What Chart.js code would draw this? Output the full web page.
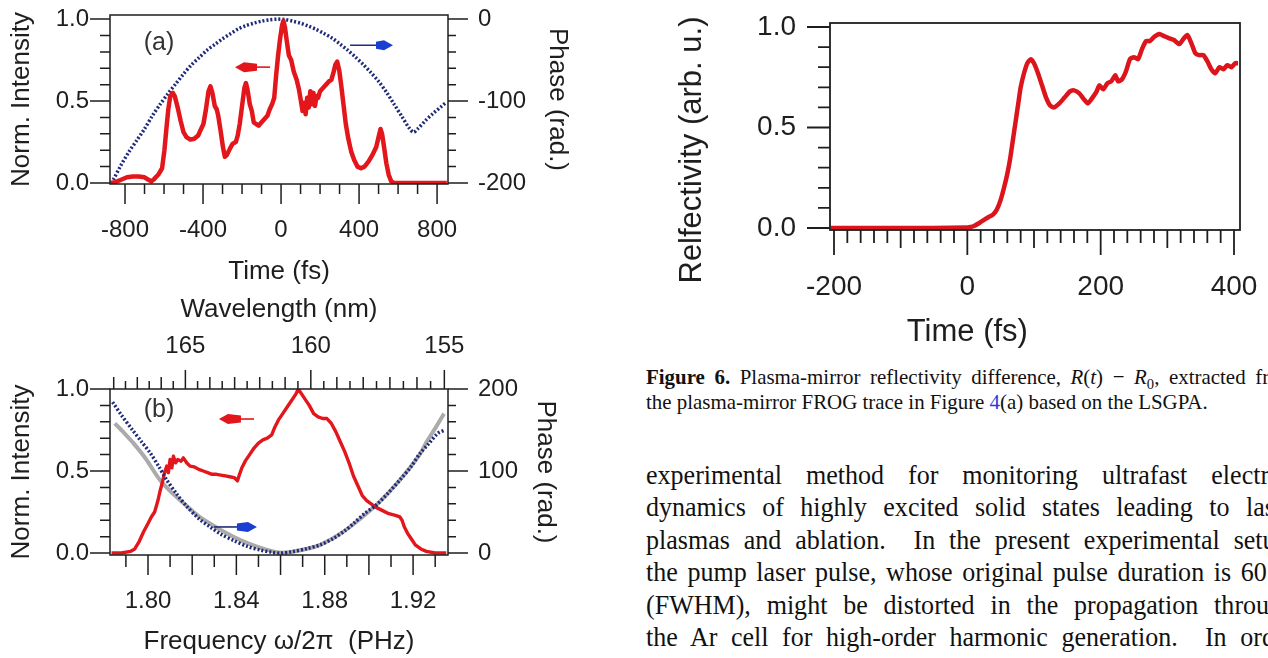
<!DOCTYPE html>
<html>
<head>
<meta charset="utf-8">
<script src="https://cdn.jsdelivr.net/npm/chart.js@4.4.1/dist/chart.umd.min.js"></script>
<style>
  html, body { margin: 0; padding: 0; background: #fff; width: 1268px; height: 658px; overflow: hidden; }
  canvas { position: absolute; }
  #capt { position: absolute; left: 646px; top: 364px; font-family: "Liberation Serif", serif; font-size: 22px; line-height: 25px; color: #111; transform: scaleX(0.95); transform-origin: 0 0; }
  #capt div { width: 684px; white-space: nowrap; text-align: justify; text-align-last: justify; }
  #capt div.last { text-align-last: left; }
  #txt { position: absolute; left: 646px; top: 459px; font-family: "Liberation Serif", serif; font-size: 28px; line-height: 32.4px; color: #111; transform: scaleX(0.93); transform-origin: 0 0; }
  #txt div { width: 698px; white-space: nowrap; text-align: justify; text-align-last: justify; }
  sub { font-size: 70%; line-height: 0; }
</style>
</head>
<body>
<canvas id="ca" width="600" height="290" style="left:0;top:0"></canvas>
<canvas id="cb" width="600" height="368" style="left:0;top:290px"></canvas>
<canvas id="cr" width="608" height="350" style="left:660px;top:0"></canvas>

<div id="capt">
  <div><b>Figure 6.</b> Plasma-mirror reflectivity difference, <i>R</i>(<i>t</i>) &minus; <i>R</i><sub>0</sub>, extracted from</div>
  <div class="last">the plasma-mirror FROG trace in Figure <span style="color:#2a3cd8">4</span>(a) based on the LSGPA.</div>
</div>
<div id="txt">
  <div>experimental method for monitoring ultrafast electron</div>
  <div>dynamics of highly excited solid states leading to laser</div>
  <div>plasmas and ablation.&nbsp; In the present experimental setup,</div>
  <div>the pump laser pulse, whose original pulse duration is 60 fs</div>
  <div>(FWHM), might be distorted in the propagation through</div>
  <div>the Ar cell for high-order harmonic generation.&nbsp; In order</div>
</div>

<script>
// (a) temporal intensity and phase
const timeA = [-875, -850, -820, -790, -760, -730, -700, -680, -665, -650, -630, -610, -598, -588, -578, -568, -555, -545, -530, -515,
  -500, -485, -465, -445, -425, -410, -398, -385, -372, -362, -352, -340, -330, -322, -310, -298, -288, -278, -262, -248,
  -232, -222, -212, -200, -188, -180, -172, -160, -150, -140, -128, -115, -100, -85, -70, -58, -46, -35, -25, -15,
  -5, 5, 12, 20, 30, 40, 52, 65, 80, 92, 102, 110, 118, 126, 134, 142, 150, 158, 166, 174,
  182, 190, 200, 215, 230, 245, 258, 268, 278, 288, 298, 308, 320, 332, 345, 360, 375, 392, 410, 428,
  448, 468, 488, 500, 510, 518, 528, 540, 552, 565, 580, 620, 700, 780, 850];
const intensityA = [0, 0.005, 0.02, 0.035, 0.04, 0.04, 0.035, 0.02, 0.01, 0.025, 0.05, 0.09, 0.2, 0.33, 0.45, 0.53, 0.55, 0.53, 0.46, 0.38,
  0.31, 0.28, 0.265, 0.27, 0.29, 0.33, 0.36, 0.45, 0.56, 0.59, 0.55, 0.47, 0.45, 0.41, 0.32, 0.22, 0.16, 0.17, 0.21, 0.24,
  0.25, 0.29, 0.36, 0.47, 0.58, 0.61, 0.57, 0.48, 0.44, 0.37, 0.36, 0.35, 0.37, 0.39, 0.41, 0.45, 0.48, 0.52, 0.66, 0.78,
  0.88, 0.96, 0.99, 0.95, 0.86, 0.78, 0.75, 0.68, 0.63, 0.57, 0.5, 0.44, 0.49, 0.42, 0.52, 0.46, 0.56, 0.48, 0.55, 0.47,
  0.53, 0.52, 0.56, 0.58, 0.6, 0.62, 0.63, 0.67, 0.72, 0.74, 0.69, 0.6, 0.48, 0.36, 0.27, 0.19, 0.14, 0.1, 0.09, 0.1,
  0.13, 0.17, 0.22, 0.28, 0.33, 0.3, 0.22, 0.12, 0.05, 0.01, 0, 0, 0, 0, 0];
const phaseTimeA = [-860, -820, -780, -740, -700, -660, -620, -580, -540, -500, -460, -420, -380, -340, -300, -260, -220, -180, -140, -100,
  -60, -20, 20, 60, 100, 140, 180, 220, 260, 300, 340, 380, 420, 460, 500, 540, 580, 620, 660, 680, 700, 740, 780, 820, 845];
const phaseA = [-196, -178, -162, -148, -134, -118, -104, -91, -79, -67, -56, -47, -38, -31, -24, -18, -12, -8, -5, -2.5,
  -1, 0, -0.5, -2.5, -5, -8.5, -12.5, -17.5, -23, -30, -37.5, -46, -55, -65, -76, -89, -104, -119, -134, -138, -134, -124, -115, -107, -102];
const timeTicksA = [-800, -400, 0, 400, 800];
const intensityTicks = [0, 0.5, 1.0];
const phaseTicksA = [-200, -100, 0];

// (b) spectral intensity and phase
const freqB = [1.7835, 1.788, 1.792, 1.794, 1.796, 1.798, 1.8, 1.8015, 1.803, 1.8045, 1.8055, 1.8065, 1.8075, 1.8085, 1.8092, 1.81, 1.8108, 1.8115, 1.8125, 1.8135,
  1.815, 1.816, 1.8175, 1.819, 1.821, 1.823, 1.825, 1.827, 1.829, 1.831, 1.833, 1.835, 1.837, 1.839, 1.8405, 1.8412, 1.8425, 1.844, 1.846, 1.848,
  1.85, 1.852, 1.854, 1.856, 1.8575, 1.859, 1.861, 1.863, 1.865, 1.867, 1.868, 1.8695, 1.871, 1.873, 1.875, 1.877, 1.879, 1.881, 1.883, 1.885,
  1.887, 1.889, 1.891, 1.893, 1.895, 1.897, 1.899, 1.901, 1.903, 1.906, 1.909, 1.912, 1.914, 1.915, 1.916, 1.9175, 1.919, 1.921, 1.9235, 1.926, 1.93, 1.935];
const intensityB = [0, 0, 0.01, 0.025, 0.07, 0.13, 0.18, 0.22, 0.25, 0.32, 0.38, 0.43, 0.49, 0.53, 0.49, 0.57, 0.52, 0.59, 0.55, 0.57,
  0.56, 0.58, 0.55, 0.53, 0.525, 0.51, 0.5, 0.49, 0.48, 0.48, 0.475, 0.47, 0.465, 0.46, 0.44, 0.47, 0.52, 0.56, 0.6, 0.64,
  0.67, 0.69, 0.7, 0.72, 0.77, 0.81, 0.85, 0.89, 0.93, 0.97, 1.0, 0.97, 0.94, 0.9, 0.85, 0.83, 0.82, 0.82, 0.79, 0.74,
  0.68, 0.62, 0.55, 0.47, 0.41, 0.35, 0.32, 0.3, 0.28, 0.26, 0.24, 0.23, 0.22, 0.2, 0.16, 0.12, 0.09, 0.05, 0.025, 0.01, 0, 0];
const phaseFreqB = [1.784, 1.788, 1.793, 1.797, 1.801, 1.805, 1.8085, 1.813, 1.8175, 1.823, 1.828, 1.833, 1.839, 1.845, 1.851, 1.856,
  1.86, 1.865, 1.872, 1.878, 1.884, 1.889, 1.893, 1.898, 1.9035, 1.909, 1.914, 1.919, 1.923, 1.927, 1.9312, 1.9345];
const phaseB = [184, 168, 150, 136, 122, 105, 89, 72, 57, 42, 32, 23, 15, 8, 3.5, 1,
  0, 1.5, 5.5, 10, 18, 27, 36, 48, 59, 74, 89, 105, 121, 133, 146, 150];
const fitFreqB = [1.785, 1.789, 1.7934, 1.799, 1.8054, 1.811, 1.816, 1.822, 1.828, 1.835, 1.8416, 1.849, 1.8566, 1.862,
  1.87, 1.878, 1.889, 1.9035, 1.914, 1.923, 1.926, 1.93, 1.934];
const fitPhaseB = [158, 147, 134, 115, 89, 73, 61, 47, 36, 25, 16, 8, 2, 0.5,
  4, 10, 27, 59, 89, 120, 135, 152, 170];
const freqTicksB = [1.80, 1.84, 1.88, 1.92];
const waveTicksB = [165, 160, 155];
const phaseTicksB = [0, 100, 200];

// Figure 6 reflectivity
const reflTime = [-205, -150, -100, -50, 0, 5, 10, 18, 25, 32, 38, 44, 50, 55, 60, 64, 68, 72, 76, 80,
  85, 90, 95, 100, 106, 112, 118, 124, 130, 138, 146, 154, 160, 168, 175, 181, 188, 194, 198, 204,
  210, 216, 222, 226, 232, 238, 244, 250, 256, 262, 268, 274, 280, 288, 295, 302, 310, 318, 324, 330,
  336, 342, 348, 354, 360, 366, 372, 378, 384, 390, 396, 402, 406];
const reflectivity = [0, 0, 0, 0, 0.003, 0.005, 0.01, 0.025, 0.04, 0.055, 0.065, 0.09, 0.14, 0.2, 0.27, 0.34, 0.43, 0.52, 0.61, 0.7,
  0.77, 0.82, 0.84, 0.82, 0.77, 0.71, 0.65, 0.61, 0.6, 0.62, 0.65, 0.68, 0.685, 0.67, 0.64, 0.62, 0.65, 0.68, 0.71, 0.69,
  0.72, 0.73, 0.76, 0.73, 0.74, 0.78, 0.84, 0.85, 0.84, 0.89, 0.93, 0.93, 0.95, 0.965, 0.955, 0.945, 0.935, 0.915, 0.94, 0.96,
  0.92, 0.87, 0.86, 0.86, 0.83, 0.79, 0.77, 0.8, 0.79, 0.81, 0.8, 0.82, 0.82];
const reflTimeTicks = [-200, 0, 200, 400];
const reflTicks = [0, 0.5, 1.0];

const NM_PHZ = 299.792458; // wavelength (nm) * frequency (PHz)
const RED = '#e3161c';
const NAVY = '#1f2a78';
const INK = '#1e1e1e';
const SANS = '"Liberation Sans", Arial, sans-serif';

const pts = (xs, ys) => xs.map((x, i) => ({ x, y: ys[i] }));

function steps(from, to, step) {
  const out = [];
  const n = Math.round((to - from) / step);
  for (let i = 0; i <= n; i++) out.push(+(from + i * step).toFixed(6));
  return out;
}

// frame + major/minor tick marks drawn from the scales
const tickMarks = {
  id: 'tickMarks',
  afterDraw(chart, args, opts) {
    const { ctx, chartArea: a } = chart;
    ctx.save();
    ctx.strokeStyle = INK;
    ctx.lineWidth = opts.width || 1.5;
    ctx.strokeRect(a.left, a.top, a.right - a.left, a.bottom - a.top);
    ctx.beginPath();
    for (const m of opts.marks) {
      const s = chart.scales[m.axis];
      for (const v of m.values) {
        const p = s.getPixelForValue(v);
        if (s.position === 'left') { ctx.moveTo(a.left, p); ctx.lineTo(a.left - m.len, p); }
        else if (s.position === 'right') { ctx.moveTo(a.right, p); ctx.lineTo(a.right + m.len, p); }
        else if (s.position === 'top') { ctx.moveTo(p, a.top); ctx.lineTo(p, a.top - m.len); }
        else { ctx.moveTo(p, a.bottom); ctx.lineTo(p, a.bottom + m.len); }
      }
    }
    ctx.stroke();
    ctx.restore();
  }
};

// panel labels, arrows, free titles
const notes = {
  id: 'notes',
  afterDatasetsDraw(chart, args, opts) {
    const ctx = chart.ctx;
    for (const n of opts.items) {
      const xs = chart.scales[n.xAxis || 'x'];
      const ys = chart.scales[n.yAxis || 'y'];
      ctx.save();
      if (n.type === 'text') {
        const px = n.px !== undefined ? n.px : xs.getPixelForValue(n.x);
        const py = n.py !== undefined ? n.py : ys.getPixelForValue(n.y);
        ctx.translate(px, py);
        ctx.rotate(n.rot || 0);
        ctx.font = n.font;
        ctx.fillStyle = n.color || INK;
        ctx.textAlign = 'center';
        ctx.textBaseline = 'middle';
        ctx.fillText(n.text, 0, 0);
      } else {
        const tip = xs.getPixelForValue(n.tip);
        const tail = xs.getPixelForValue(n.tail);
        const y = ys.getPixelForValue(n.y);
        const d = Math.sign(tail - tip);
        ctx.strokeStyle = n.shaft;
        ctx.lineWidth = 1.6;
        ctx.beginPath();
        ctx.moveTo(tip + d * n.head * 0.6, y);
        ctx.lineTo(tail, y);
        ctx.stroke();
        ctx.fillStyle = n.color;
        ctx.beginPath();
        ctx.moveTo(tip, y);
        ctx.lineTo(tip + d * 9, y - 5);
        ctx.lineTo(tip + d * n.head, y - 3.5);
        ctx.lineTo(tip + d * n.head, y + 3.5);
        ctx.lineTo(tip + d * 9, y + 5);
        ctx.closePath();
        ctx.fill();
      }
      ctx.restore();
    }
  }
};

function fixSize(prop, size) {
  return (s) => {
    s[prop] = size;
    s.paddingLeft = 0; s.paddingRight = 0; s.paddingTop = 0; s.paddingBottom = 0;
  };
}
const setTicks = (vals) => (s) => { s.ticks = vals.map((v) => ({ value: v })); };
const noGrid = { display: false, drawTicks: false, tickLength: 0 };
const tickFont = { family: SANS, size: 24 };
const titleFont = { family: SANS, size: 26 };

function axis(extra) {
  return Object.assign({
    type: 'linear',
    grid: noGrid,
    border: { display: false },
  }, extra);
}

const base = {
  responsive: false,
  animation: false,
  events: [],
};

// ---------- (a) ----------
new Chart(document.getElementById('ca'), {
  type: 'line',
  data: {
    datasets: [
      { data: pts(timeA, intensityA), yAxisID: 'y', borderColor: RED, borderWidth: 4.5, pointRadius: 0, tension: 0, borderJoinStyle: 'round', order: 0 },
      { data: pts(phaseTimeA, phaseA), yAxisID: 'y2', borderColor: NAVY, borderWidth: 3.5, borderDash: [2, 2], pointRadius: 0, tension: 0.3, order: 1 },
    ],
  },
  options: Object.assign({}, base, {
    layout: { padding: { top: 15, left: 0, right: 0, bottom: 0 } },
    plugins: {
      legend: { display: false },
      tooltip: { enabled: false },
      tickMarks: {
        marks: [
          { axis: 'x', values: steps(-800, 800, 100), len: 10 },
          { axis: 'x', values: steps(-800, 800, 400), len: 20 },
          { axis: 'y', values: steps(0, 1, 0.1), len: 10 },
          { axis: 'y', values: intensityTicks, len: 20 },
          { axis: 'y2', values: steps(-200, 0, 20), len: 8 },
          { axis: 'y2', values: phaseTicksA, len: 20 },
        ],
      },
      notes: {
        items: [
          { type: 'text', text: '(a)', x: -626, y: 0.854, font: '25px ' + SANS, color: '#333' },
          { type: 'arrow', tip: -236, tail: -56, y: 0.707, head: 22, color: RED, shaft: RED },
          { type: 'arrow', tip: 574, tail: 354, y: 0.84, head: 17, color: '#1a3dd2', shaft: NAVY },
        ],
      },
    },
    scales: {
      x: axis({
        position: 'bottom', min: -877, max: 856,
        afterFit: fixSize('height', 106),
        afterBuildTicks: setTicks(timeTicksA),
        ticks: { font: tickFont, color: INK, padding: 31.6, maxRotation: 0, autoSkip: false, callback: (v) => String(v) },
        title: { display: true, text: 'Time (fs)', font: titleFont, color: INK, padding: { top: 0, bottom: 2.4 } },
      }),
      y: axis({
        position: 'left', min: -0.006, max: 1.025,
        afterFit: fixSize('width', 110),
        afterBuildTicks: setTicks(intensityTicks),
        ticks: { font: tickFont, color: INK, padding: 21, callback: (v) => v.toFixed(1) },
        title: { display: true, text: 'Norm. Intensity', font: titleFont, color: INK, padding: { top: 6.4, bottom: 0 } },
      }),
      y2: axis({
        position: 'right', min: -201.2, max: 5,
        afterFit: fixSize('width', 152),
        afterBuildTicks: setTicks(phaseTicksA),
        ticks: { font: tickFont, color: INK, padding: 30, callback: (v) => String(v) },
        title: { display: true, text: 'Phase (rad.)', font: titleFont, color: INK, padding: { top: 27.4, bottom: 0 } },
      }),
    },
  }),
  plugins: [tickMarks, notes],
});

// ---------- (b) ----------
new Chart(document.getElementById('cb'), {
  type: 'line',
  data: {
    datasets: [
      { data: pts(phaseFreqB, phaseB), yAxisID: 'y2', borderColor: NAVY, borderWidth: 3.5, borderDash: [2, 2], pointRadius: 0, tension: 0.3, order: 0 },
      { data: pts(freqB, intensityB), yAxisID: 'y', borderColor: RED, borderWidth: 3.4, pointRadius: 0, tension: 0, borderJoinStyle: 'round', order: 1 },
      { data: pts(fitFreqB, fitPhaseB), yAxisID: 'y2', borderColor: '#ababab', borderWidth: 4, pointRadius: 0, tension: 0.3, order: 2 },
    ],
  },
  options: Object.assign({}, base, {
    layout: { padding: 0 },
    plugins: {
      legend: { display: false },
      tooltip: { enabled: false },
      tickMarks: {
        marks: [
          { axis: 'x', values: steps(1.79, 1.93, 0.01), len: 12 },
          { axis: 'x', values: steps(1.80, 1.92, 0.02), len: 20 },
          { axis: 'xTop', values: steps(155, 168, 0.5).map((w) => NM_PHZ / w), len: 8 },
          { axis: 'xTop', values: steps(155, 168, 1).map((w) => NM_PHZ / w), len: 12 },
          { axis: 'xTop', values: waveTicksB.map((w) => NM_PHZ / w), len: 19 },
          { axis: 'y', values: steps(0, 1, 0.1), len: 10 },
          { axis: 'y', values: intensityTicks, len: 20 },
          { axis: 'y2', values: steps(0, 200, 20), len: 8 },
          { axis: 'y2', values: phaseTicksB, len: 20 },
        ],
      },
      notes: {
        items: [
          { type: 'text', text: '(b)', x: 1.805, y: 0.872, font: '25px ' + SANS, color: '#333' },
          { type: 'arrow', tip: 1.8321, tail: 1.848, y: 0.817, head: 22, color: RED, shaft: RED },
          { type: 'arrow', tip: 1.8493, tail: 1.8298, y: 0.159, head: 20, color: '#1a3dd2', shaft: NAVY },
        ],
      },
    },
    scales: {
      x: axis({
        position: 'bottom', min: 1.7828, max: 1.9358,
        afterFit: fixSize('height', 103),
        afterBuildTicks: setTicks(freqTicksB),
        ticks: { font: tickFont, color: INK, padding: 31.6, maxRotation: 0, autoSkip: false, callback: (v) => v.toFixed(2) },
        title: { display: true, text: 'Frequency \u03c9/2\u03c0  (PHz)', font: titleFont, color: INK, padding: { top: 0, bottom: 0.4 } },
      }),
      xTop: axis({
        position: 'top', min: 1.7828, max: 1.9358,
        afterFit: fixSize('height', 99),
        afterBuildTicks: setTicks(waveTicksB.map((w) => NM_PHZ / w)),
        ticks: { font: tickFont, color: INK, padding: 28.6, maxRotation: 0, autoSkip: false, callback: (v) => String(Math.round(NM_PHZ / v)) },
        title: { display: true, text: 'Wavelength (nm)', font: titleFont, color: INK, padding: { top: 4.4, bottom: 0 } },
      }),
      y: axis({
        position: 'left', min: -0.012, max: 1.0,
        afterFit: fixSize('width', 110),
        afterBuildTicks: setTicks(intensityTicks),
        ticks: { font: tickFont, color: INK, padding: 21, callback: (v) => v.toFixed(1) },
        title: { display: true, text: 'Norm. Intensity', font: titleFont, color: INK, padding: { top: 6.4, bottom: 0 } },
      }),
      y2: axis({
        position: 'right', min: -2.4, max: 200,
        afterFit: fixSize('width', 152),
        afterBuildTicks: setTicks(phaseTicksB),
        ticks: { font: tickFont, color: INK, padding: 30, callback: (v) => String(v) },
        title: { display: true, text: 'Phase (rad.)', font: titleFont, color: INK, padding: { top: 39.4, bottom: 0 } },
      }),
    },
  }),
  plugins: [tickMarks, notes],
});

// ---------- Figure 6: reflectivity ----------
new Chart(document.getElementById('cr'), {
  type: 'line',
  data: {
    datasets: [
      { data: pts(reflTime, reflectivity), borderColor: '#dc141c', borderWidth: 4.5, pointRadius: 0, tension: 0.2, borderJoinStyle: 'round' },
    ],
  },
  options: Object.assign({}, base, {
    layout: { padding: { top: 23, left: 0, right: 28, bottom: 0 } },
    plugins: {
      legend: { display: false },
      tooltip: { enabled: false },
      tickMarks: {
        width: 1.8,
        marks: [
          { axis: 'x', values: steps(-200, 400, 20), len: 13 },
          { axis: 'x', values: steps(-200, 400, 100), len: 18 },
          { axis: 'x', values: reflTimeTicks, len: 25 },
          { axis: 'y', values: steps(0, 1, 0.1), len: 12 },
          { axis: 'y', values: reflTicks, len: 23 },
        ],
      },
      notes: {
        items: [
          { type: 'text', text: 'Time (fs)', x: 0, py: 332, font: '31px ' + SANS },
          { type: 'text', text: 'Relfectivity (arb. u.)', px: 32, py: 150, rot: -Math.PI / 2, font: '31px ' + SANS },
        ],
      },
    },
    scales: {
      x: axis({
        position: 'bottom', min: -206, max: 409,
        afterFit: fixSize('height', 120),
        afterBuildTicks: setTicks(reflTimeTicks),
        ticks: { font: { family: SANS, size: 28 }, color: INK, padding: 40.2, maxRotation: 0, autoSkip: false, callback: (v) => String(v) },
      }),
      y: axis({
        position: 'left', min: -0.01, max: 1.02,
        afterFit: fixSize('width', 170),
        afterBuildTicks: setTicks(reflTicks),
        ticks: { font: { family: SANS, size: 28 }, color: INK, padding: 34, callback: (v) => v.toFixed(1) },
      }),
    },
  }),
  plugins: [tickMarks, notes],
});
</script>
</body>
</html>
